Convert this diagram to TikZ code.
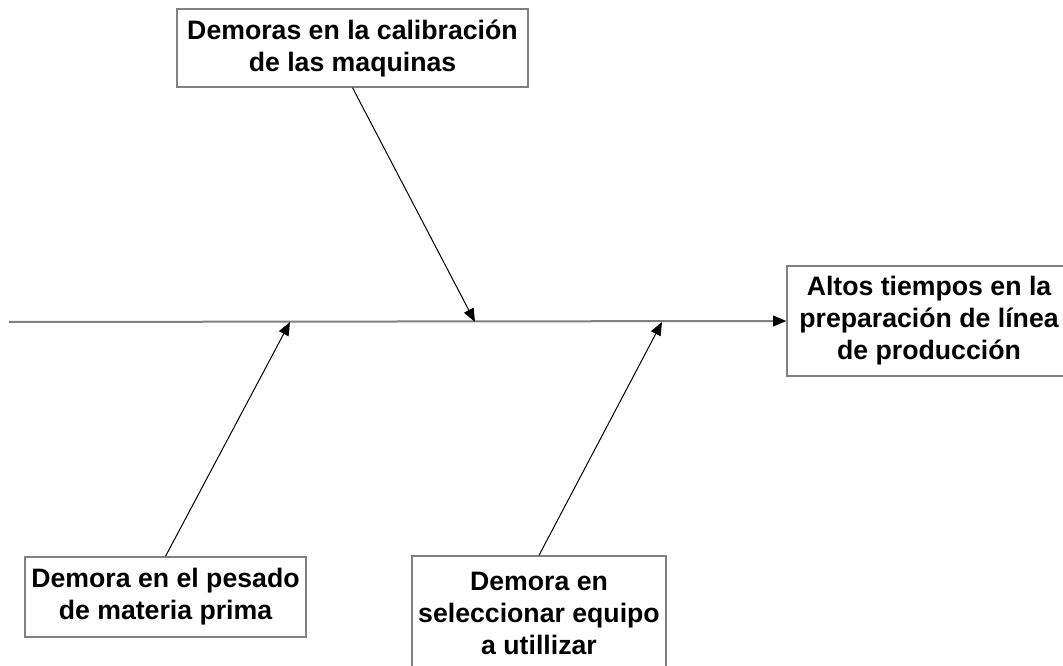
\documentclass[tikz,border=0pt]{standalone}
\usepackage{fontspec}
\setmainfont{Liberation Sans}
\usetikzlibrary{arrows.meta}

\definecolor{ejegris}{rgb}{0.5, 0.5, 0.5}
\tikzset{caja/.style={draw=ejegris, line width=1pt, fill=white, align=center, inner sep=0pt, font=\fontsize{20}{24}\selectfont\bfseries}}
\tikzset{eje/.style={line width=1.5pt, color=ejegris, -{Triangle[length=10pt, width=8pt, color=black]}}}
\tikzset{espina/.style={line width=0.75pt, color=black, -{Triangle[length=10pt, width=8pt]}}}

\begin{document}
\begin{tikzpicture}[x=0.75pt, y=-0.75pt]
        \useasboundingbox (0,0) rectangle (1063,666);

        \node[caja, minimum width=263.25pt, minimum height=58.5pt] (Ncal) at (352.5, 48) {Demoras en la calibración\\de las maquinas};
        \node[caja, minimum width=213pt, minimum height=82.5pt] (Nefe) at (929, 321) {Altos tiempos en la\\preparación de línea\\de producción};
        \node[caja, minimum width=210.75pt, minimum height=60pt] (Npes) at (165.5, 597) {Demora en el pesado\\de materia prima};
        \node[caja, minimum width=190.5pt, minimum height=85.5pt] (Nequ) at (539, 613) {Demora en\\seleccionar equipo\\a utillizar};

        \coordinate (Ci) at (9, 322);
        \coordinate (Pa) at (290, 322);
        \coordinate (Pb) at (475, 322);
        \coordinate (Pc) at (662, 322);

        \draw [eje] (Ci) -- (Nefe.west);
        \draw [espina] (Ncal.south) -- (Pb);
        \draw [espina] (Npes.north) -- (Pa);
        \draw [espina] (Nequ.north) -- (Pc);

    \end{tikzpicture}
\end{document}
